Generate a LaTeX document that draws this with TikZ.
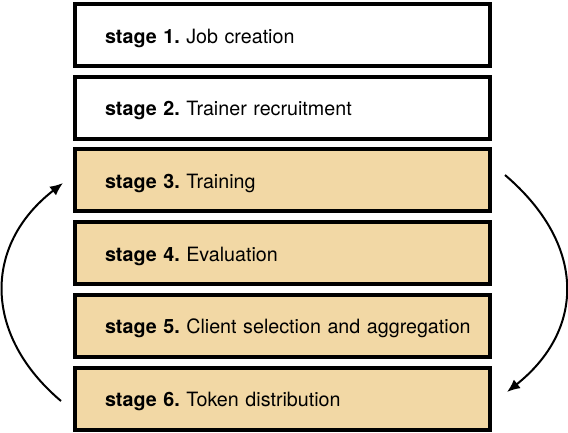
\documentclass[tikz,border=0pt]{standalone}
\usepackage{fontspec}
\setmainfont{TeX Gyre Heros}
\usetikzlibrary{arrows.meta}
\definecolor{stagefill}{RGB}{242,216,165}
\frenchspacing
\begin{document}
\begin{tikzpicture}[x=1pt,y=-1pt,
  stagebox/.style={draw=black, line width=4pt, minimum width=415pt, minimum height=62pt,
    text width=385pt, inner xsep=0pt, inner ysep=0pt, align=left,
    text height=18pt, text depth=2pt,
    font=\fontsize{19.7pt}{23pt}\selectfont,
    execute at begin node={\hspace*{15pt}}},
  done/.style={fill=white},
  active/.style={fill=stagefill},
  cyc/.style={line width=2pt, -{Latex[length=13pt,width=11pt]}}
]
\useasboundingbox (0,0) rectangle (568,432);
\node[stagebox, done]   (s1) at (282.5,35)    {\textbf{stage 1.} Job creation};
\node[stagebox, done]   (s2) at (282.5,107.7) {\textbf{stage 2.} Trainer recruitment};
\node[stagebox, active] (s3) at (282.5,180.4) {\textbf{stage 3.} Training};
\node[stagebox, active] (s4) at (282.5,253.1) {\textbf{stage 4.} Evaluation};
\node[stagebox, active] (s5) at (282.5,325.8) {\textbf{stage 5.} Client selection and aggregation};
\node[stagebox, active] (s6) at (282.5,398.5) {\textbf{stage 6.} Token distribution};
\coordinate (rs) at (505,175);
\coordinate (re) at (507,392);
\coordinate (ls) at (61,401);
\coordinate (le) at (63,183);
\draw[cyc] (rs) .. controls (587,245) and (585,330) .. (re);
\draw[cyc] (ls) .. controls (-17,335) and (-17,245) .. (le);
\end{tikzpicture}
\end{document}
